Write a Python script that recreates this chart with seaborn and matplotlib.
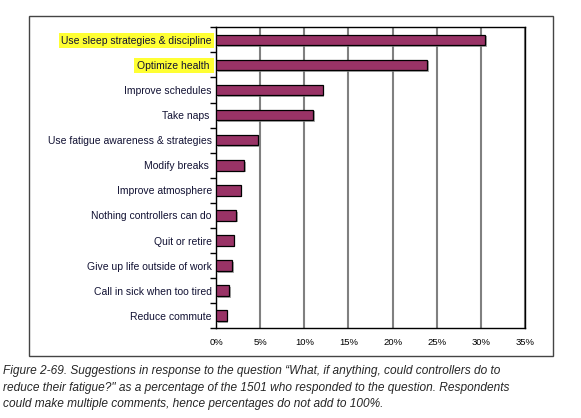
import matplotlib
matplotlib.use("Agg")
import matplotlib.pyplot as plt
import matplotlib.patheffects as pe
from matplotlib.patches import Rectangle
from matplotlib.ticker import FixedLocator, PercentFormatter
import numpy as np
import pandas as pd
import seaborn as sns

categories = [
    "Use sleep strategies & discipline",
    "Optimize health ",
    "Improve schedules",
    "Take naps ",
    "Use fatigue awareness & strategies",
    "Modify breaks ",
    "Improve atmosphere",
    "Nothing controllers can do",
    "Quit or retire",
    "Give up life outside of work",
    "Call in sick when too tired",
    "Reduce commute",
]
percent = [30.5, 23.9, 12.1, 11.0, 4.8, 3.2, 2.8, 2.3, 2.0, 1.8, 1.5, 1.2]
highlighted = ["Use sleep strategies & discipline", "Optimize health "]
xticks = [0, 5, 10, 15, 20, 25, 30, 35]

caption = ("Figure 2-69. Suggestions in response to the question \u201cWhat, if anything, could controllers do to\n"
           "reduce their fatigue?\" as a percentage of the 1501 who responded to the question. Respondents\n"
           "could make multiple comments, hence percentages do not add to 100%.")

sns.set_theme(style="white")
plt.rcParams["font.family"] = ["Liberation Sans", "DejaVu Sans"]

df = pd.DataFrame({"category": categories, "percent": percent})

fig = plt.figure(figsize=(5.81, 4.18), dpi=100)
ax = fig.add_axes([0.3718, 0.2146, 0.5318, 0.7201])

sns.barplot(data=df, x="percent", y="category", orient="h", color="#993366",
            edgecolor="black", linewidth=0.9, width=0.42, saturation=1, ax=ax)
for bar in ax.patches:
    bar.set_path_effects([pe.SimplePatchShadow(offset=(1.2, -1.2), shadow_rgbFace="#888888", alpha=0.7),
                          pe.Normal()])
    bar.set_zorder(3)

ax.set_xlim(0, 35)
ax.set_xticks(xticks)
ax.xaxis.set_major_formatter(PercentFormatter(decimals=0))
ax.grid(axis="x", color="#808080", lw=1.5)
ax.set_axisbelow(True)
ax.set_xlabel("")
ax.set_ylabel("")

ax.tick_params(axis="x", length=0, labelsize=6.8, pad=7, colors="black")
ax.tick_params(axis="y", which="major", length=0, labelsize=7.5, pad=3, labelcolor="#111133")
ax.yaxis.set_minor_locator(FixedLocator(np.arange(len(categories) + 1) - 0.5))
ax.tick_params(axis="y", which="minor", length=4, width=1, color="black", left=True)

for lab in ax.get_yticklabels():
    if lab.get_text() in highlighted:
        lab.set_bbox(dict(facecolor="#ffff33", edgecolor="none", pad=1.8))

for s in ax.spines.values():
    s.set_color("black")
    s.set_linewidth(1.0)

fig.patches.append(Rectangle((29 / 581, 1 - 356 / 418), (553 - 29) / 581, (356 - 16) / 418,
                             transform=fig.transFigure, fill=False, edgecolor="#444444", lw=1.0))

fig.text(0.006, 1 - 365 / 418, caption, ha="left", va="top", fontsize=8.6, style="italic",
         linespacing=1.5)

fig.savefig("out.png", dpi=100)
